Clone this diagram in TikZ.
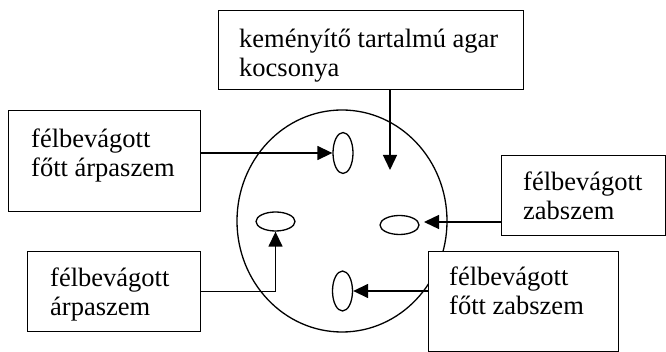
\documentclass[tikz,border=0pt]{standalone}
\usepackage{fontspec}
\setmainfont{Liberation Serif}
\usetikzlibrary{shapes.geometric,arrows.meta}
\newcommand{\lnstrut}{\rule{0pt}{20pt}}
\tikzset{
  box/.style={draw, line width=1.4pt, fill=white, rectangle, inner sep=0pt, anchor=north west},
  txt/.style={anchor=north west, inner sep=0pt, align=left,
              font=\fontsize{26.5}{29}\selectfont},
  seed/.style={draw, ellipse, line width=1.3pt, inner sep=0pt},
  arr/.style={line width=1.4pt, -{Triangle[length=15pt, width=14pt]}}
}
\begin{document}
\begin{tikzpicture}[x=1pt, y=-1pt]
  \useasboundingbox (0,0) rectangle (666,352);

  % agar plate
  \node[draw, ellipse, line width=1.3pt, minimum width=210pt, minimum height=222pt, inner sep=0pt] (plate) at (342,221) {};

  % seed halves on the plate
  \node[seed, minimum width=20pt, minimum height=41pt] (seedT) at (343,153) {};
  \node[seed, minimum width=39pt, minimum height=19pt] (seedL) at (275.5,221.5) {};
  \node[seed, minimum width=39pt, minimum height=19pt] (seedR) at (399.5,225) {};
  \node[seed, minimum width=20pt, minimum height=40pt] (seedB) at (342.5,291) {};

  % label boxes
  \node[box, minimum width=305pt, minimum height=79pt] (agarbox) at (218,10) {};
  \node[txt] (agartxt) at (239,27) {\lnstrut keményítő tartalmú agar\\kocsonya};

  \node[box, minimum width=192pt, minimum height=101pt] (ltbox) at (8,110) {};
  \node[txt] (lttxt) at (31,127.5) {\lnstrut félbevágott\\főtt árpaszem};

  \node[box, minimum width=164pt, minimum height=80pt] (rbox) at (501,155) {};
  \node[txt] (rtxt) at (523,170) {\lnstrut félbevágott\\zabszem};

  \node[box, minimum width=173pt, minimum height=80pt] (blbox) at (27,251) {};
  \node[txt] (bltxt) at (50,266) {\lnstrut félbevágott\\árpaszem};

  \node[box, minimum width=190pt, minimum height=100pt] (brbox) at (428,251) {};
  \node[txt] (brtxt) at (449,265) {\lnstrut félbevágott\\főtt zabszem};

  % connectors
  \coordinate (agarpt) at (390,170);
  \coordinate (zabpt) at (424,222);
  \draw[arr] (agarbox.south -| agarpt) -- (agarpt);
  \draw[arr] (ltbox.east |- seedT.west) -- (seedT.west);
  \draw[arr] (rbox.west |- zabpt) -- (zabpt);
  \draw[arr] (blbox.east) -| (seedL.south);
  \draw[arr] (brbox.west |- seedB.east) -- (seedB.east);
\end{tikzpicture}
\end{document}
